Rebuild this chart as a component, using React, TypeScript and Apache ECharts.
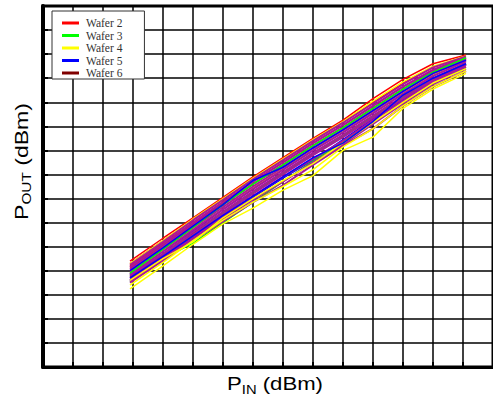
import React, { useEffect, useRef } from "react";
import * as echarts from "echarts";

// P_IN sample positions (in grid units of the plot)
const PIN = [2.9, 4, 5, 6, 7, 8, 9, 10, 11, 12, 13, 14.1];

// Wafer 2 (red)
const W2_A = [4.4, 5.35, 6.2, 7.05, 7.9, 8.7, 9.5, 10.26, 11.15, 11.95, 12.6, 12.96];
const W2_B = [4.3, 5.25, 6.1, 6.95, 7.8, 8.6, 9.4, 10.15, 11.0, 11.8, 12.45, 12.9];
const W2_C = [4.2, 5.15, 6.0, 6.85, 7.7, 8.5, 9.3, 10.05, 10.85, 11.65, 12.35, 12.85];
const W2_D = [4.1, 5.05, 5.95, 6.8, 7.6, 8.4, 9.2, 9.95, 10.75, 11.55, 12.25, 12.8];

// Wafer 3 (green)
const W3_A = [3.9, 4.9, 5.8, 6.75, 7.6, 8.4, 9.2, 9.95, 10.75, 11.55, 12.25, 12.85];
const W3_B = [3.8, 4.7, 5.5, 6.4, 7.25, 8.05, 8.85, 9.6, 10.4, 11.2, 11.95, 12.6];
const W3_C = [3.55, 4.5, 5.15, 6.0, 6.85, 7.7, 8.55, 9.35, 10.15, 10.95, 11.75, 12.45];

// Wafer 4 (yellow)
const W4_A = [3.25, 4.2, 5.1, 5.95, 6.6, 7.35, 7.95, 9.0, 9.55, 10.75, 11.55, 12.2];
const W4_B = [3.4, 4.35, 5.25, 6.1, 6.85, 7.5, 8.2, 9.15, 9.9, 10.85, 11.65, 12.3];
const W4_C = [3.6, 4.5, 5.2, 6.2, 7.0, 7.75, 8.45, 9.3, 10.15, 11.0, 11.8, 12.4];
const W4_D = [3.9, 4.85, 5.75, 6.65, 7.45, 8.25, 9.05, 9.8, 10.6, 11.4, 12.15, 12.75];
const W4_E = [4.3, 5.25, 6.15, 7.0, 7.85, 8.65, 9.45, 10.2, 11.05, 11.85, 12.5, 12.92];

// Wafer 5 (blue)
const W5_A = [4.0, 4.95, 5.85, 6.75, 7.75, 8.3, 9.1, 9.85, 10.65, 11.45, 12.2, 12.75];
const W5_B = [3.7, 4.6, 5.45, 6.3, 7.1, 7.9, 8.7, 9.3, 10.2, 11.3, 12.0, 12.6];
const W5_C = [3.85, 4.8, 5.65, 6.55, 7.4, 8.2, 9.0, 9.75, 10.55, 11.35, 12.1, 12.7];
const W5_D = [3.6, 4.5, 5.35, 6.2, 7.05, 7.85, 8.6, 9.45, 10.3, 11.1, 11.9, 12.55];

// Wafer 6 (dark red)
const W6_A = [3.75, 4.65, 5.55, 6.4, 7.25, 8.05, 8.85, 9.6, 10.4, 11.2, 11.95, 12.6];

// Other traces (magenta)
const M1 = [4.25, 5.2, 6.1, 6.95, 7.8, 8.6, 9.4, 10.15, 10.95, 11.75, 12.45, 12.9];
const M2 = [4.15, 5.1, 6.0, 6.85, 7.7, 8.5, 9.3, 10.05, 10.85, 11.65, 12.35, 12.85];
const M3 = [4.05, 5.0, 5.9, 6.75, 7.6, 8.4, 9.2, 9.95, 10.75, 11.55, 12.3, 12.8];
const M4 = [3.95, 4.9, 5.8, 6.65, 7.5, 8.3, 9.1, 9.85, 10.65, 11.45, 12.2, 12.75];
const M5 = [3.85, 4.8, 5.7, 6.55, 7.4, 8.2, 9.0, 9.75, 10.55, 11.35, 12.1, 12.7];
const M6 = [3.8, 4.7, 5.6, 6.45, 7.3, 8.1, 8.9, 9.65, 10.45, 11.25, 12.0, 12.62];
const M7 = [3.7, 4.62, 5.5, 6.35, 7.2, 8.0, 8.8, 9.55, 10.35, 11.15, 11.92, 12.55];
const M8 = [3.62, 4.55, 5.4, 6.25, 7.1, 7.9, 8.65, 9.4, 10.25, 11.05, 11.85, 12.48];
const M9 = [3.55, 4.48, 5.32, 6.15, 6.95, 7.7, 8.5, 9.25, 10.1, 10.95, 11.75, 12.4];
const M10 = [3.5, 4.42, 5.25, 6.05, 6.85, 7.55, 8.4, 9.2, 9.9, 10.85, 11.65, 12.3];

const LEGEND_NAMES = ["Wafer 2", "Wafer 3", "Wafer 4", "Wafer 5", "Wafer 6"];

const RED = "#ff0000";
const GREEN = "#00ff00";
const YELLOW = "#ffff00";
const BLUE = "#0000ff";
const DARKRED = "#800000";
const MAGENTA = "#aa1899";

// drawing order (back to front)
const LAYERS: { name: string; color: string; traces: number[][] }[] = [
  { name: "Wafer 6", color: DARKRED, traces: [W6_A] },
  { name: "Wafer 5", color: BLUE, traces: [W5_C, W5_D] },
  { name: "Wafer 3", color: GREEN, traces: [W3_B, W3_C] },
  { name: "Wafer 4", color: YELLOW, traces: [W4_D] },
  { name: "Wafer 2", color: RED, traces: [W2_A, W2_B, W2_C, W2_D] },
  { name: "Wafer 4", color: YELLOW, traces: [W4_E] },
  { name: "Other", color: MAGENTA, traces: [M1, M2, M3, M4, M5, M6, M7, M8, M9, M10] },
  { name: "Wafer 4", color: YELLOW, traces: [W4_A, W4_B, W4_C] },
  { name: "Wafer 3", color: GREEN, traces: [W3_A] },
  { name: "Wafer 5", color: BLUE, traces: [W5_A, W5_B] },
];

export default function App() {
  const ref = useRef<HTMLDivElement>(null);
  useEffect(() => {
    if (!ref.current) return;
    const chart = echarts.init(ref.current, null, { renderer: "svg" });
    const series: any[] = [];
    LAYERS.forEach((g) => {
      g.traces.forEach((t) => {
        series.push({
          type: "line",
          name: g.name,
          data: PIN.map((x, i) => [x, t[i]]),
          symbol: "none",
          color: g.color,
          itemStyle: { color: g.color },
          lineStyle: { color: g.color, width: g.name === "Other" ? 2 : 1.5 },
          silent: true,
        });
      });
    });
    const axisCommon = {
      type: "value",
      min: 0,
      max: 15,
      interval: 1,
      axisLabel: { show: false },
      axisTick: { show: true, inside: true, length: 5, lineStyle: { color: "#000", width: 2 } },
      splitLine: { show: true, lineStyle: { color: "#000", width: 1.5 } },
    };
    chart.setOption({
      animation: false,
      grid: { left: 43, right: 0, top: 6, bottom: 31, show: true, borderColor: "#000", borderWidth: 3 },
      xAxis: { ...axisCommon, axisLine: { show: true, lineStyle: { color: "#000", width: 3 } } },
      yAxis: { ...axisCommon, axisLine: { show: true, lineStyle: { color: "#000", width: 4 } } },
      legend: {
        data: LEGEND_NAMES,
        left: 52,
        top: 11,
        orient: "vertical",
        backgroundColor: "#fff",
        borderColor: "#333",
        borderWidth: 1,
        borderRadius: 0,
        padding: [6, 22, 0, 10],
        itemWidth: 17,
        itemHeight: 3,
        itemGap: 0.5,
        icon: "rect",
        selectedMode: false,
        textStyle: {
          fontFamily: "Liberation Serif",
          fontSize: 11.5,
          color: "#333",
          lineHeight: 12,
          padding: [0, 0, 0, 2],
        },
      },
      graphic: [
        {
          type: "text",
          x: 275,
          y: 384,
          scaleX: 1.23,
          style: {
            text: "{p|P}{s|IN}{p| (dBm)}",
            align: "center",
            verticalAlign: "middle",
            fill: "#000",
            rich: {
              p: { fontFamily: "Liberation Sans", fontSize: 18, lineHeight: 24, fill: "#000" },
              s: { fontFamily: "Liberation Sans", fontSize: 12, lineHeight: 12, verticalAlign: "bottom", fill: "#000" },
            },
          },
        },
        {
          type: "text",
          x: 21.5,
          y: 161.5,
          rotation: Math.PI / 2,
          scaleX: 1.28,
          style: {
            text: "{p|P}{s|OUT}{p| (dBm)}",
            align: "center",
            verticalAlign: "middle",
            fill: "#000",
            rich: {
              p: { fontFamily: "Liberation Sans", fontSize: 18, lineHeight: 24, fill: "#000" },
              s: { fontFamily: "Liberation Sans", fontSize: 12, lineHeight: 12, verticalAlign: "bottom", fill: "#000" },
            },
          },
        },
      ],
      series,
    });
    return () => chart.dispose();
  }, []);
  return (
    <div
      ref={ref}
      style={{ position: "fixed", left: 0, top: 0, width: 493, height: 398, background: "#fff" }}
    />
  );
}
